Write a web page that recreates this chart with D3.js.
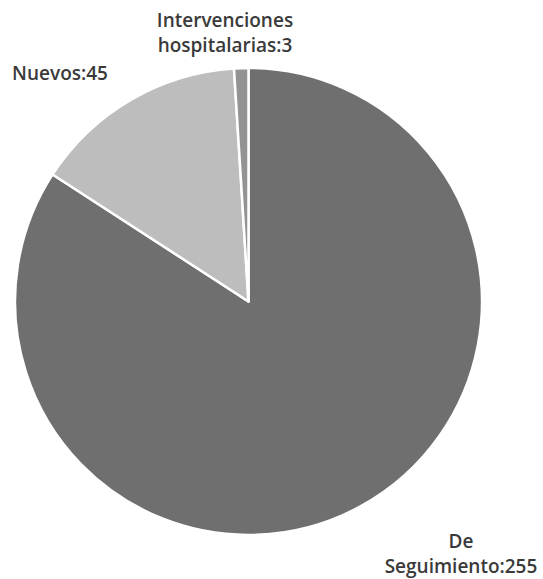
<!DOCTYPE html>
<html>
<head>
<meta charset="utf-8">
<script src="https://cdn.jsdelivr.net/npm/d3@7"></script>
<style>
  html, body { margin: 0; padding: 0; background: #fff; }
  svg { display: block; }
</style>
</head>
<body>
<svg id="chart" width="543" height="579"></svg>
<script>
// Slice data (clockwise from 12 o'clock)
const categories = ["De Seguimiento", "Nuevos", "Intervenciones hospitalarias"];
const values = [255, 45, 3];
const sliceColors = ["#6f6f6f", "#bdbdbd", "#939393"];
// Label lines drawn for each slice
const labelLines = [["De", "Seguimiento:255"], ["Nuevos:45"], ["Intervenciones", "hospitalarias:3"]];

const svg = d3.select("#chart");
const cx = 248.5, cy = 301.5, radius = 233.5;

const pie = d3.pie().sort(null).value(d => d.value);
const arcs = pie(categories.map((c, i) => ({ name: c, value: values[i] })));
const arc = d3.arc().innerRadius(0).outerRadius(radius);

const g = svg.append("g").attr("transform", `translate(${cx},${cy})`);
g.selectAll("path")
  .data(arcs)
  .join("path")
  .attr("d", arc)
  .attr("fill", (d, i) => sliceColors[i])
  .attr("stroke", "#fff")
  .attr("stroke-width", 2.5)
  .attr("stroke-linejoin", "round");

// Label anchor positions (absolute) for each slice label block
const labelPos = [
  { x: 461, y: 548 },
  { x: 60, y: 80 },
  { x: 225, y: 27 }
];
const lineHeight = 25;

svg.append("g")
  .selectAll("text")
  .data(arcs)
  .join("text")
  .attr("text-anchor", "middle")
  .attr("font-family", "'Open Sans', sans-serif")
  .attr("font-size", 19)
  .attr("font-weight", 600)
  .attr("fill", "#3a3a3a")
  .each(function(d, i) {
    const t = d3.select(this);
    labelLines[i].forEach((line, k) => {
      t.append("tspan")
        .attr("x", labelPos[i].x)
        .attr("y", labelPos[i].y + k * lineHeight)
        .text(line);
    });
  });
</script>
</body>
</html>
